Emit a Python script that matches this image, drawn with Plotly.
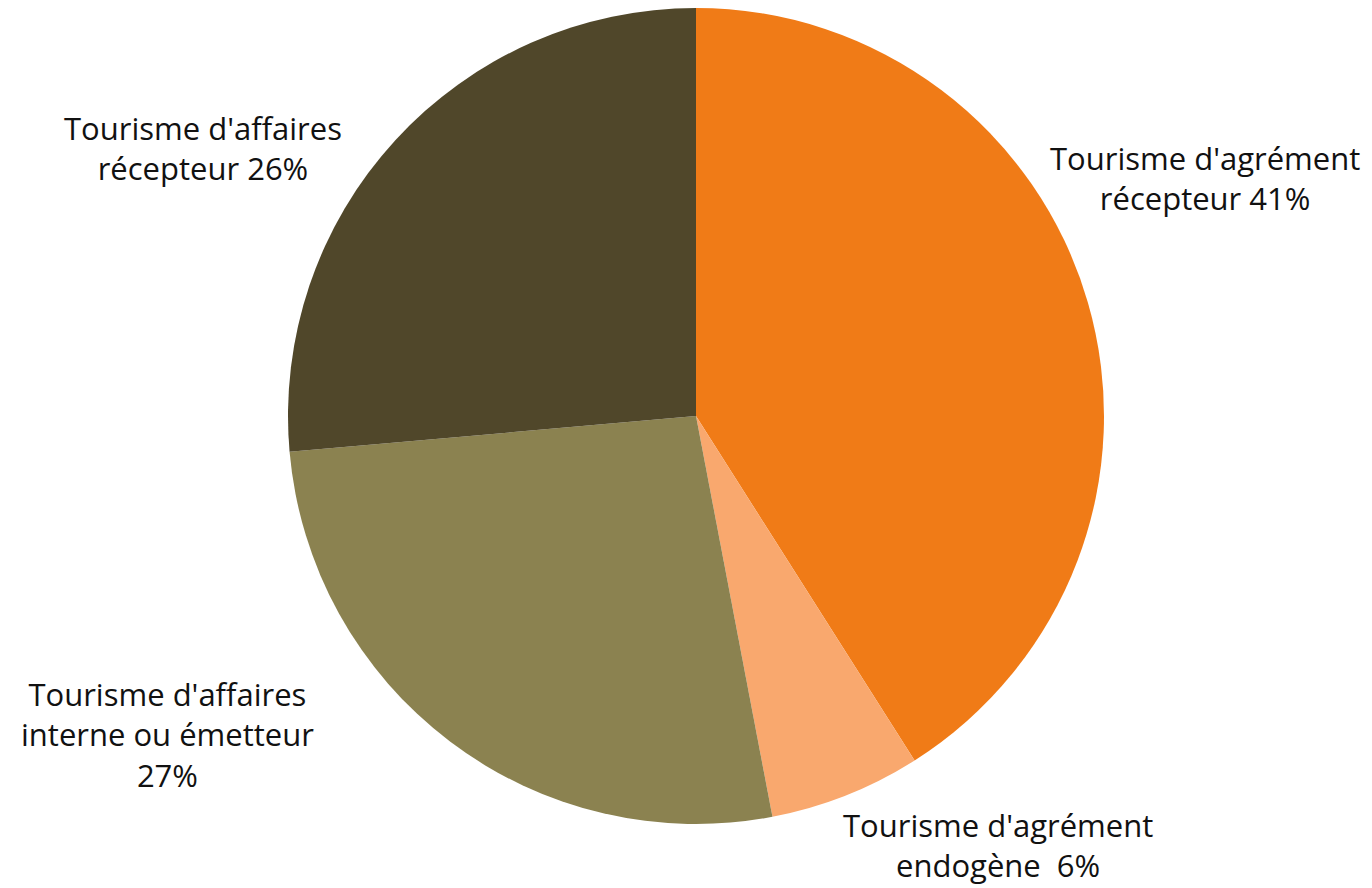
import plotly.graph_objects as go

labels = ["Tourisme d'agrément récepteur", "Tourisme d'agrément endogène",
          "Tourisme d'affaires interne ou émetteur", "Tourisme d'affaires récepteur"]
values = [41.0, 6.0, 26.6, 26.4]
colors = ["#F07B17", "#F9A86E", "#8B8250", "#50472A"]
label_texts = ["Tourisme d'agrément<br>récepteur 41%",
               "Tourisme d'agrément<br>endogène  6%",
               "Tourisme d'affaires<br>interne ou émetteur<br>27%",
               "Tourisme d'affaires<br>récepteur 26%"]
label_pos = [(1205, 178), (998, 845), (167, 734), (203, 148)]  # screen px centres

OFF = 8  # page body margin
W, H = 1372 - OFF, 888 - OFF
cx, cy, r = 696 - OFF, 416 - OFF, 408

fig = go.Figure(go.Pie(
    labels=labels, values=values, sort=False, direction="clockwise", rotation=0,
    marker=dict(colors=colors, line=dict(width=0)),
    textinfo="none", hoverinfo="label+percent", showlegend=False,
    domain=dict(x=[(cx - r) / W, (cx + r) / W],
                y=[max(0, (H - cy - r) / H), min(1, (H - cy + r) / H)]),
))

for t, (x, y) in zip(label_texts, label_pos):
    fig.add_annotation(x=(x - OFF) / W, y=1 - (y - OFF) / H, xref="paper", yref="paper", text=t,
                       showarrow=False, xanchor="center", yanchor="middle",
                       font=dict(family="Open Sans", size=31, color="#111111"))

fig.update_layout(width=W, height=H, margin=dict(l=0, r=0, t=0, b=0),
                  paper_bgcolor="white", plot_bgcolor="white")
fig.write_html("out.html")
